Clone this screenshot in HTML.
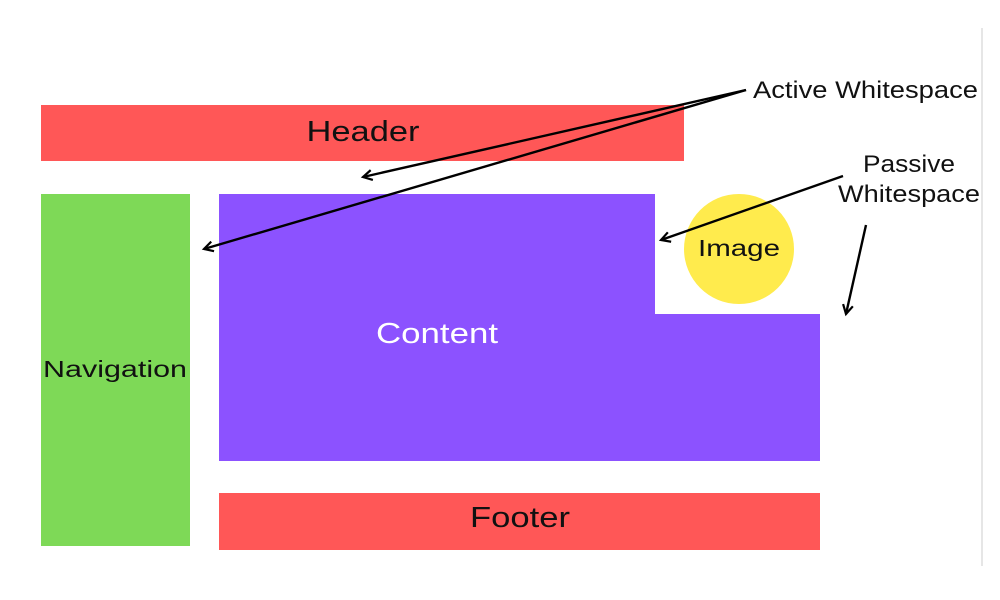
<!DOCTYPE html>
<html><head><meta charset="utf-8"><style>
html,body{margin:0;padding:0;background:#fff;width:1000px;height:600px;overflow:hidden}
</style></head><body>
<svg width="1000" height="600" viewBox="0 0 1000 600" xmlns="http://www.w3.org/2000/svg">
<defs><marker id="a" markerWidth="14" markerHeight="14" refX="11" refY="6" orient="auto" markerUnits="userSpaceOnUse"><path d="M2,1 L11,6 L2,11" fill="none" stroke="#000" stroke-width="2.2"/></marker></defs>
<line x1="982" y1="28" x2="982" y2="566" stroke="#ddd" stroke-width="1.5"/>
<rect x="41" y="105" width="643" height="56" fill="#ff5757"/>
<rect x="41" y="194" width="149" height="352" fill="#7ed957"/>
<polygon points="219,194 655,194 655,314 820,314 820,461 219,461" fill="#8c52ff"/>
<rect x="219" y="493" width="601" height="57" fill="#ff5757"/>
<circle cx="739" cy="249" r="55" fill="#ffeb4d"/>
<g font-family="Liberation Sans, sans-serif" text-anchor="middle">
<text x="363" y="141" font-size="29" fill="#111" textLength="113" lengthAdjust="spacingAndGlyphs">Header</text>
<text x="437" y="343" font-size="29" fill="#fff" textLength="122" lengthAdjust="spacingAndGlyphs">Content</text>
<text x="115" y="377" font-size="23" fill="#111" textLength="144" lengthAdjust="spacingAndGlyphs">Navigation</text>
<text x="520" y="527" font-size="29" fill="#111" textLength="100" lengthAdjust="spacingAndGlyphs">Footer</text>
<text x="739" y="256" font-size="23" fill="#111" textLength="82" lengthAdjust="spacingAndGlyphs">Image</text>
</g>
<g font-family="Liberation Sans, sans-serif" font-size="24" fill="#111">
<text x="753" y="98" textLength="225" lengthAdjust="spacingAndGlyphs">Active Whitespace</text>
<text x="909" y="172" text-anchor="middle" textLength="92" lengthAdjust="spacingAndGlyphs">Passive</text>
<text x="909" y="202" text-anchor="middle" textLength="142" lengthAdjust="spacingAndGlyphs">Whitespace</text>
</g>
<g stroke="#000" stroke-width="2.4" fill="none">
<line x1="746" y1="90" x2="363" y2="177" marker-end="url(#a)"/>
<path d="M746,90 Q470,170 204,249" marker-end="url(#a)"/>
<line x1="843" y1="176" x2="661" y2="240" marker-end="url(#a)"/>
<line x1="866" y1="225" x2="846" y2="314" marker-end="url(#a)"/>
</g>
</svg>
</body></html>
